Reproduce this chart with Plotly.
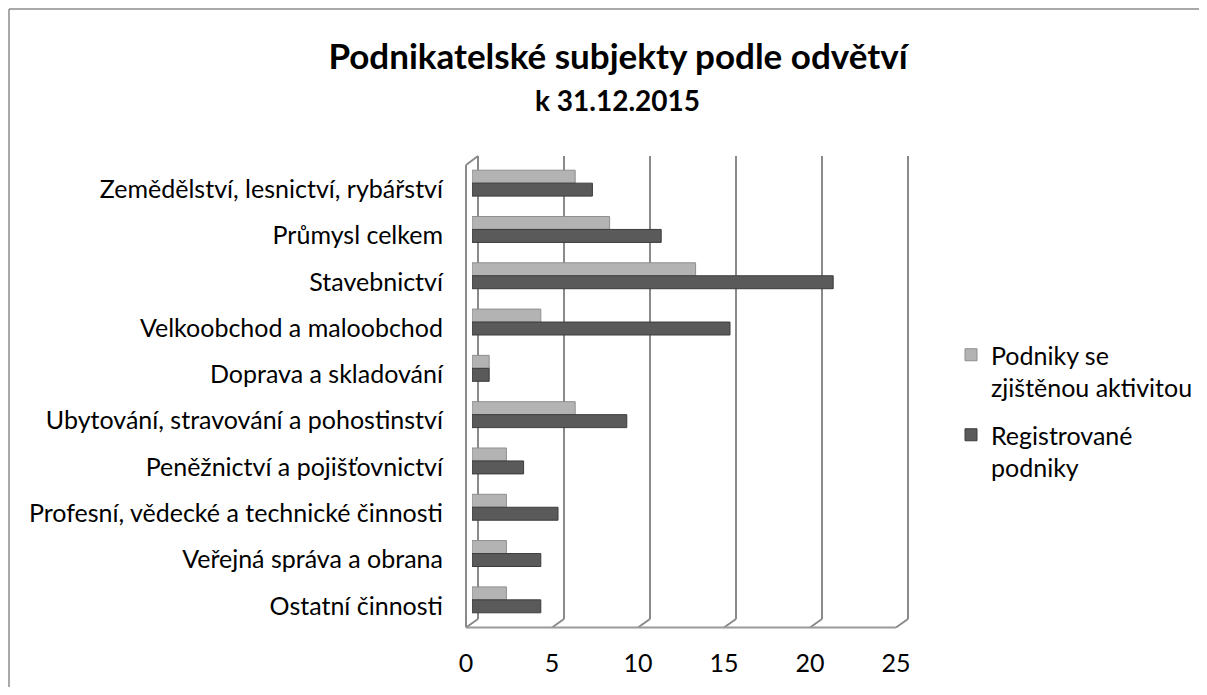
import plotly.graph_objects as go

categories = [
    "Zemědělství, lesnictví, rybářství",
    "Průmysl celkem",
    "Stavebnictví",
    "Velkoobchod a maloobchod",
    "Doprava a skladování",
    "Ubytování, stravování a pohostinství",
    "Peněžnictví a pojišťovnictví",
    "Profesní, vědecké a technické činnosti",
    "Veřejná správa a obrana",
    "Ostatní činnosti",
]
active_name = "Podniky se<br>zjištěnou aktivitou"
registered_name = "Registrované<br>podniky"
active_values = [6, 8, 13, 4, 1, 6, 2, 2, 2, 2]
registered_values = [7, 11, 21, 15, 1, 9, 3, 5, 4, 4]
x_ticks = [0, 5, 10, 15, 20, 25]

# page body margin of the browser (figure is offset by it)
OFF = 8
W, H = 1207 - 2 * OFF, 695 - 2 * OFF
ML = 472 - OFF
MT = 160 - OFF
PW, PH = 430, 463
MR, MB = W - ML - PW, H - MT - PH
FONT = "Lato"

def px(t):
    return 472 + (t - x_ticks[0]) / (x_ticks[-1] - x_ticks[0]) * PW

def xp(p):  # screen px -> paper
    return (p - OFF - ML) / PW

def yp(p):
    return (MT + PH - (p - OFF)) / PH

def xc(p):  # screen px -> container
    return (p - OFF) / W

def yc(p):
    return 1 - (p - OFF) / H

fig = go.Figure()
fig.add_trace(go.Bar(
    y=categories, x=active_values, orientation="h", name=active_name,
    legendgroup="a",
    marker=dict(color="#b3b3b3", line=dict(color="#8e8e8e", width=1)),
))
fig.add_trace(go.Bar(
    y=categories, x=registered_values, orientation="h", name=registered_name,
    legendgroup="b",
    marker=dict(color="#5a5a5a", line=dict(color="#3c3c3c", width=1)),
))

grid_col = "#8a8a8a"
DX = 6
back_top, back_bot = 156, 619
front_bot = 627.5
shapes = []
def line(x0, y0, x1, y1, col=grid_col, w=2):
    shapes.append(dict(type="line", xref="paper", yref="paper",
                       x0=xp(x0), y0=yp(y0), x1=xp(x1), y1=yp(y1),
                       line=dict(color=col, width=w), layer="below"))

for t in x_ticks:
    p = px(t)
    line(p + DX, back_top, p + DX, back_bot)
    line(p + DX, back_bot, p - DX, front_bot)
line(px(x_ticks[0]) - DX, front_bot, px(x_ticks[-1]) - DX, front_bot, col="#9a9a9a")
line(px(0) - DX, front_bot, px(0) - DX, 165)
line(px(0) - DX, 165, px(0) + DX, back_top)
# outer chart frame (only top and left edges are inside the picture)
line(9, 9, 1199, 9, col="#8c8c8c", w=1.5)
line(9, 9, 9, 687, col="#8c8c8c", w=1.5)

fig.update_layout(
    width=W, height=H,
    margin=dict(l=ML, r=MR, t=MT, b=MB, autoexpand=False),
    paper_bgcolor="white", plot_bgcolor="rgba(0,0,0,0)",
    barmode="group", bargap=0.44, bargroupgap=0,
    font=dict(family=FONT, size=25, color="#000000"),
    title=dict(text="<b>Podnikatelské subjekty podle odvětví</b>",
               font=dict(family=FONT, size=35, color="#000000"),
               x=xc(618), xref="container", xanchor="center",
               y=yc(57), yref="container", yanchor="middle"),
    shapes=shapes,
    annotations=[dict(text="<b>k 31.12.2015</b>", xref="paper", yref="paper",
                      x=xp(617), y=yp(100), xanchor="center", yanchor="middle",
                      showarrow=False, font=dict(family=FONT, size=28, color="#000000"))],
    legend=dict(x=xc(951), y=yc(332), xref="container", yref="container",
                xanchor="left", yanchor="top", valign="top",
                font=dict(family=FONT, size=25, color="#000000"),
                tracegroupgap=12, bgcolor="rgba(0,0,0,0)"),
    xaxis=dict(range=[x_ticks[0], x_ticks[-1]], tickvals=x_ticks, ticktext=[str(v) for v in x_ticks],
               showgrid=False, zeroline=False, showline=False, ticks="", automargin=False,
               ticklabelshift=-DX, ticklabelstandoff=23,
               tickfont=dict(family=FONT, size=25, color="#000000")),
    yaxis=dict(autorange="reversed", showgrid=False, zeroline=False, showline=False,
               ticks="", ticklabelstandoff=28, automargin=False, ticklabelshift=-6,
               tickfont=dict(family=FONT, size=25, color="#000000")),
)

fig.write_html("out.html")
